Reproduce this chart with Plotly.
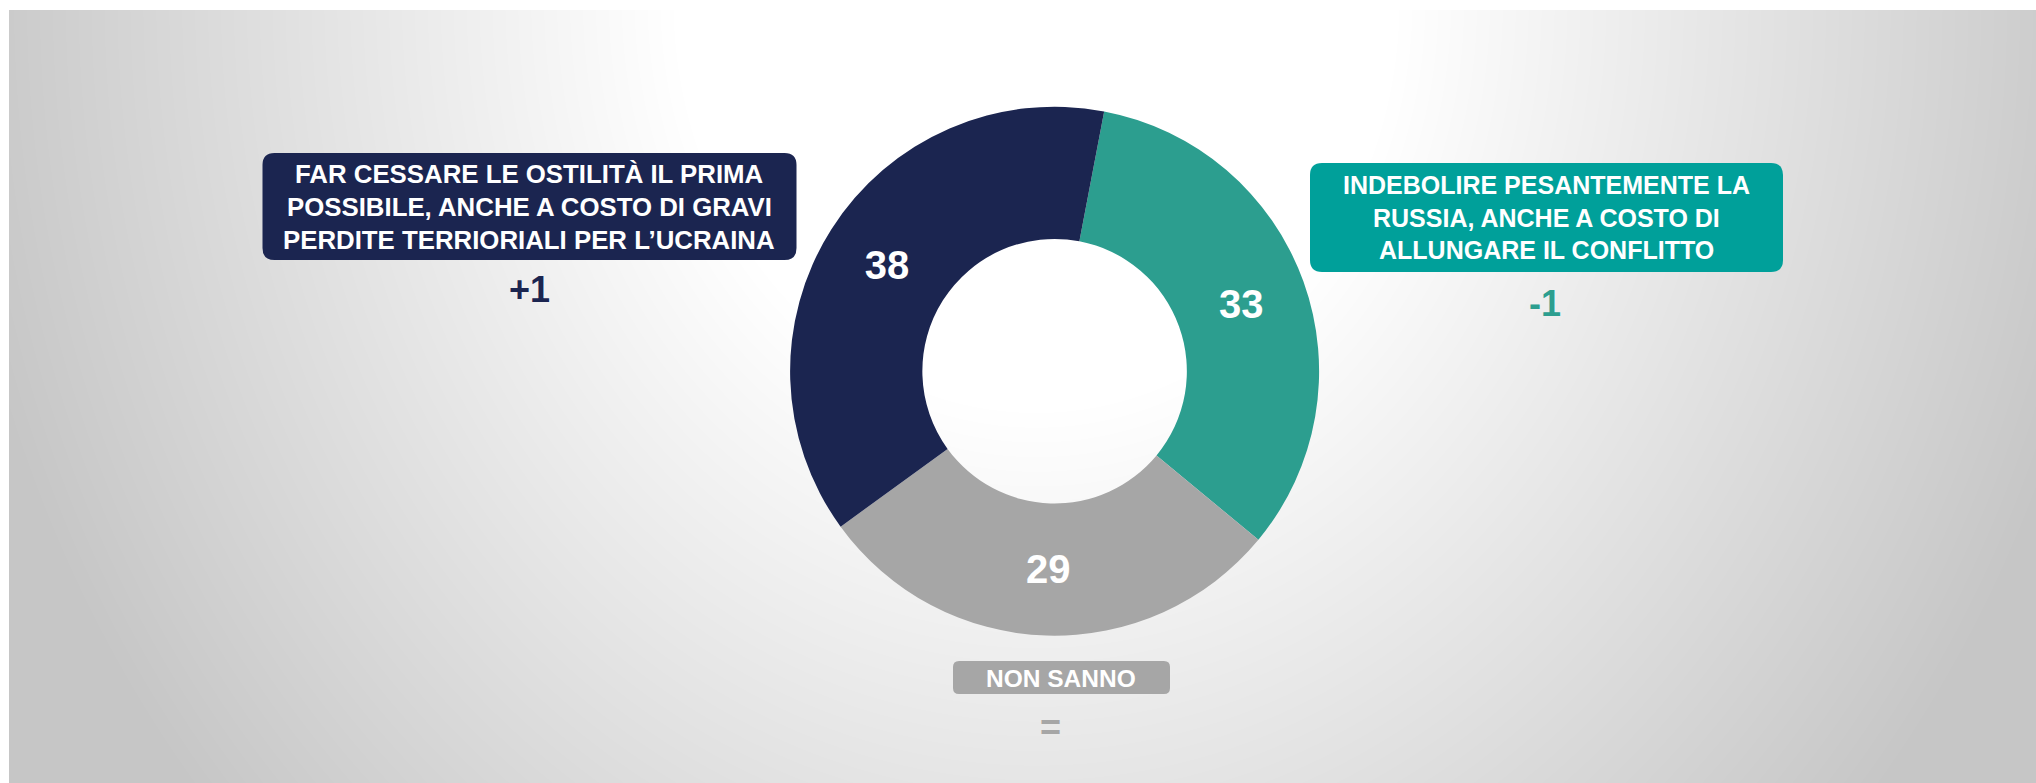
import base64
import struct
import zlib

import numpy as np
import plotly.graph_objects as go

# Canvas size in pixels
W, H = 2036, 783

# ---- data ---------------------------------------------------------------
answers = [
    "INDEBOLIRE PESANTEMENTE LA RUSSIA, ANCHE A COSTO DI ALLUNGARE IL CONFLITTO",
    "NON SANNO",
    "FAR CESSARE LE OSTILITÀ IL PRIMA POSSIBILE, ANCHE A COSTO DI GRAVI PERDITE TERRIORIALI PER L’UCRAINA",
]
shares = [33, 29, 38]
changes = ["-1", "=", "+1"]

left_lines = [
    "FAR CESSARE LE OSTILITÀ IL PRIMA",
    "POSSIBILE, ANCHE A COSTO DI GRAVI",
    "PERDITE TERRIORIALI PER L’UCRAINA",
]
right_lines = [
    "INDEBOLIRE PESANTEMENTE LA",
    "RUSSIA, ANCHE A COSTO DI",
    "ALLUNGARE IL CONFLITTO",
]
bottom_label = "NON SANNO"

# ---- colours ------------------------------------------------------------
NAVY = "#1B2550"
TEAL = "#2C9E8F"
TEAL_BOX = "#00A09A"
GREY = "#A6A6A6"
slice_colors = [TEAL, GREY, NAVY]

FONT = "Liberation Sans, Arial, Helvetica, sans-serif"


# ---- helpers -------------------------------------------------------------
def px(x):
    return x / W


def py(y):
    return 1 - y / H


def rounded_rect(x0, y0, x1, y1, r, color):
    """Rounded rectangle given in pixel coordinates (y grows downward)."""
    rx, ry = r / W, r / H
    a, b, c, d = px(x0), py(y0), px(x1), py(y1)  # b is top, d is bottom
    path = (
        f"M {a + rx},{b} L {c - rx},{b} Q {c},{b} {c},{b - ry} "
        f"L {c},{d + ry} Q {c},{d} {c - rx},{d} "
        f"L {a + rx},{d} Q {a},{d} {a},{d + ry} "
        f"L {a},{b - ry} Q {a},{b} {a + rx},{b} Z"
    )
    return dict(type="path", xref="paper", yref="paper", path=path,
                fillcolor=color, line=dict(width=0), layer="above")


def png_gray(arr):
    h, w = arr.shape
    raw = b"".join(b"\x00" + arr[i].tobytes() for i in range(h))

    def chunk(tag, data):
        body = tag + data
        return struct.pack(">I", len(data)) + body + struct.pack(">I", zlib.crc32(body) & 0xFFFFFFFF)

    return (b"\x89PNG\r\n\x1a\n"
            + chunk(b"IHDR", struct.pack(">IIBBBBB", w, h, 8, 0, 0, 0, 0))
            + chunk(b"IDAT", zlib.compress(raw, 9))
            + chunk(b"IEND", b""))


# ---- background panel: soft radial grey gradient, white at top centre ----
X0, Y0 = 9, 10
pw, ph = W - X0, H - Y0
gx = np.arange(pw)[None, :] + X0
gy = np.arange(ph)[:, None] + Y0
d = np.sqrt(((gx - 1036) / 1100.0) ** 2 + (gy / 1250.0) ** 2)
t = np.clip((d - 0.33) / 0.67, 0, 1)
shade = np.clip(255 - t * (255 - 198), 196, 255).astype(np.uint8)
bg_uri = "data:image/png;base64," + base64.b64encode(png_gray(shade)).decode()

# ---- figure --------------------------------------------------------------
cx, cy, R = 1054.6, 371.2, 264.5
fig = go.Figure(
    go.Pie(
        labels=answers,
        values=shares,
        sort=False,
        direction="clockwise",
        rotation=10.8,
        hole=0.5,
        marker=dict(colors=slice_colors, line=dict(width=0)),
        textinfo="value",
        textposition="inside",
        insidetextorientation="horizontal",
        textfont=dict(family=FONT, size=40, color="white", weight="bold"),
        hoverinfo="skip",
        showlegend=False,
        domain=dict(x=[px(cx - R), px(cx + R)], y=[py(cy + R), py(cy - R)]),
    )
)

shapes = [
    rounded_rect(262.5, 153, 796.5, 260, 12, NAVY),
    rounded_rect(1310, 163, 1783, 272, 12, TEAL_BOX),
    rounded_rect(953, 661, 1170, 694, 6, GREY),
]

annotations = []


def add_text(text, x, y, size, color):
    annotations.append(dict(
        text=text, x=px(x), y=py(y), xref="paper", yref="paper",
        xanchor="center", yanchor="middle", showarrow=False,
        font=dict(family=FONT, size=size, color=color, weight="bold"),
    ))


LINE_PITCH = 32.5
for i, line in enumerate(left_lines):
    add_text(line, 529, 174.5 + i * LINE_PITCH, 25.8, "white")
for i, line in enumerate(right_lines):
    add_text(line, 1546.5, 185 + i * LINE_PITCH, 25, "white")
add_text(bottom_label, 1061, 678, 24.5, "white")

# change vs previous wave, under each label
add_text(changes[2], 529, 289.5, 36, NAVY)
add_text(changes[0], 1545, 303.5, 36, TEAL)
add_text(changes[1], 1050, 727, 36, GREY)

fig.update_layout(
    width=W,
    height=H,
    margin=dict(l=0, r=0, t=0, b=0),
    paper_bgcolor="white",
    plot_bgcolor="rgba(0,0,0,0)",
    images=[dict(source=bg_uri, xref="paper", yref="paper",
                 x=px(X0), y=py(Y0), sizex=pw / W, sizey=ph / H,
                 xanchor="left", yanchor="top", sizing="stretch",
                 layer="below")],
    shapes=shapes,
    annotations=annotations,
)

fig.write_html("out.html", config={"displayModeBar": False})
